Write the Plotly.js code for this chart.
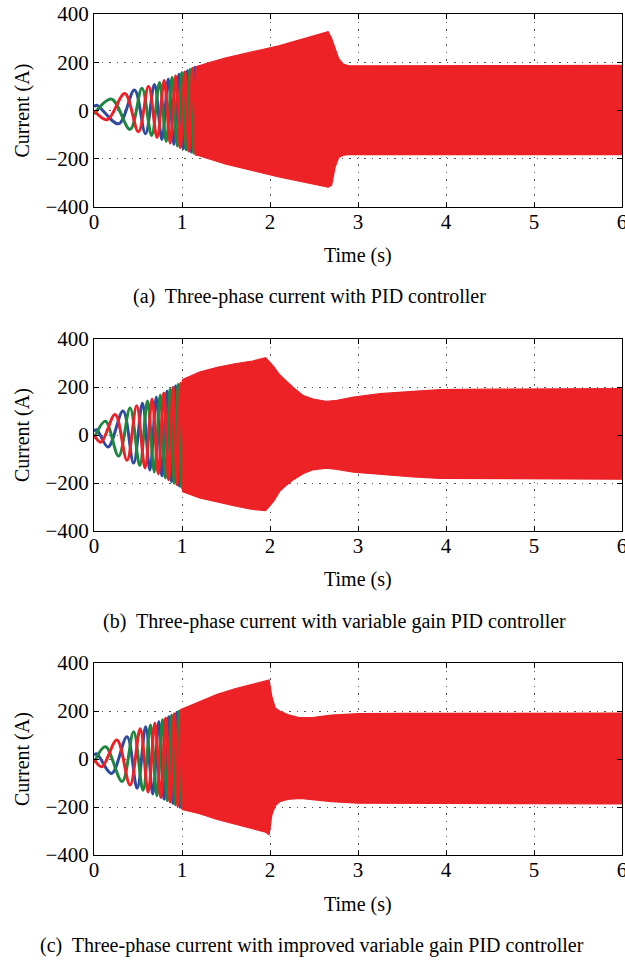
<!DOCTYPE html>
<html>
<head>
<meta charset="utf-8">
<script src="https://cdn.plot.ly/plotly-3.0.1.min.js"></script>
<style>
html,body{margin:0;padding:0;background:#fff;}
#chart{width:625px;height:961px;}
</style>
</head>
<body>
<div id="chart"></div>
<script>
// ---------- data (time in s, current in A) ----------
var xTicks = [0, 1, 2, 3, 4, 5, 6];
var yTicks = [-400, -200, 0, 200, 400];
var captions = [
  "(a)  Three-phase current with PID controller",
  "(b)  Three-phase current with variable gain PID controller",
  "(c)  Three-phase current with improved variable gain PID controller"
];

// Panel (a): individual peaks of each phase during start-up
var aRedT = [0, 0.15, 0.35, 0.505, 0.62, 0.717, 0.797, 0.866, 0.927, 0.982, 1.032, 1.078, 1.12, 1.16, 1.198];
var aRedV = [0, -38, 70, -88, 100, -112, 124, -135, 144, -153, 160, -168, 175, -182, 188];
var aGreenT = [0, 0.20, 0.41, 0.545, 0.655, 0.745, 0.821, 0.887, 0.946, 0.999, 1.048, 1.092, 1.134, 1.173];
var aGreenV = [-15, 47, -78, 92, -104, 116, -128, 138, -147, 156, -163, 170, -177, 184];
var aBlueT = [0, 0.03, 0.28, 0.46, 0.585, 0.687, 0.772, 0.844, 0.907, 0.964, 1.016, 1.063, 1.106, 1.147, 1.186];
var aBlueV = [15, 22, -55, 85, -96, 108, -120, 131, -141, 150, -158, 165, -172, 179, -186];
// Panel (a): envelope of the dense band
var aEnvT = [1.15, 1.3, 1.5, 1.7, 1.9, 2.1, 2.3, 2.45, 2.58, 2.66, 2.70, 2.74, 2.78, 2.83, 2.9, 3.2, 3.6, 4.0, 4.5, 5.0, 5.5, 6.0];
var aEnvUp = [180, 198, 218, 236, 252, 268, 288, 303, 316, 327, 300, 262, 216, 192, 185, 185, 186, 185, 186, 186, 186, 187];
var aEnvLo = [-182, -200, -222, -240, -258, -275, -292, -303, -312, -318, -310, -235, -195, -186, -182, -182, -182, -183, -183, -183, -183, -183];

// Panel (b)
var bRedT = [0, 0.08, 0.24, 0.375, 0.485, 0.58, 0.66, 0.73, 0.793, 0.848, 0.898, 0.943, 0.985, 1.024, 1.061];
var bRedV = [0, -30, 85, -105, 122, -137, 150, -162, 174, -186, 198, -207, 216, -225, 234];
var bGreenT = [0, 0.13, 0.28, 0.41, 0.52, 0.608, 0.685, 0.752, 0.812, 0.865, 0.913, 0.957, 0.998, 1.037];
var bGreenV = [-15, 57, -88, 112, -127, 142, -154, 166, -178, 190, -201, 210, -219, 228];
var bBlueT = [0, 0.03, 0.16, 0.33, 0.45, 0.55, 0.635, 0.708, 0.773, 0.83, 0.882, 0.928, 0.971, 1.011, 1.049];
var bBlueV = [15, 22, -50, 100, -117, 132, -146, 158, -170, 182, -194, 204, -213, 222, -231];
var bEnvT = [1.0, 1.2, 1.4, 1.6, 1.8, 1.95, 2.04, 2.11, 2.19, 2.27, 2.38, 2.49, 2.64, 2.76, 2.95, 3.25, 3.63, 3.93, 4.5, 5.0, 5.5, 6.0];
var bEnvUp = [230, 262, 282, 297, 308, 322, 286, 251, 223, 196, 164, 150, 140, 144, 158, 172, 182, 189, 191, 192, 192, 193];
var bEnvLo = [-235, -262, -280, -295, -310, -315, -277, -235, -208, -185, -160, -145, -138, -143, -155, -165, -175, -181, -183, -184, -184, -184];

// Panel (c)
var cRedT = [0, 0.09, 0.26, 0.41, 0.525, 0.615, 0.692, 0.758, 0.815, 0.866, 0.912, 0.953, 0.992, 1.028];
var cRedV = [0, -32, 79, -108, 126, -138, 150, -160, 170, -179, 188, -196, 204, -210];
var cGreenT = [0, 0.13, 0.32, 0.45, 0.557, 0.642, 0.715, 0.778, 0.833, 0.882, 0.926, 0.966, 1.004, 1.04];
var cGreenV = [-15, 51, -94, 114, -130, 142, -153, 164, -173, 182, -191, 199, -206, 212];
var cBlueT = [0, 0.03, 0.2, 0.375, 0.49, 0.587, 0.668, 0.737, 0.797, 0.85, 0.897, 0.94, 0.979, 1.016];
var cBlueV = [15, 22, -60, 93, -122, 134, -146, 156, -167, 176, -185, 194, -201, 208];
var cEnvT = [1.0, 1.2, 1.4, 1.6, 1.8, 1.95, 1.99, 2.02, 2.06, 2.11, 2.2, 2.34, 2.5, 2.7, 3.0, 3.5, 4.0, 4.5, 5.0, 5.5, 6.0];
var cEnvUp = [208, 240, 270, 292, 312, 325, 329, 262, 212, 200, 185, 172, 174, 183, 189, 190, 190, 191, 191, 191, 191];
var cEnvLo = [-210, -228, -252, -270, -290, -305, -315, -235, -195, -178, -168, -164, -170, -178, -184, -186, -186, -187, -187, -187, -187];

// ---------- styling ----------
var RED = "#ec2227", BLUE = "#2f4b9f", GREEN = "#1f8640";
var FONT = "Liberation Serif, Times New Roman, serif";

var panels = [
  {red:[aRedT,aRedV], green:[aGreenT,aGreenV], blue:[aBlueT,aBlueV], env:[aEnvT,aEnvUp,aEnvLo]},
  {red:[bRedT,bRedV], green:[bGreenT,bGreenV], blue:[bBlueT,bBlueV], env:[bEnvT,bEnvUp,bEnvLo]},
  {red:[cRedT,cRedV], green:[cGreenT,cGreenV], blue:[cBlueT,cBlueV], env:[cEnvT,cEnvUp,cEnvLo]}
];

var traces = [];
panels.forEach(function(p, i){
  var xa = i === 0 ? "x" : "x" + (i+1);
  var ya = i === 0 ? "y" : "y" + (i+1);
  function line(d, col, w){
    return {x:d[0], y:d[1], xaxis:xa, yaxis:ya, type:"scatter", mode:"lines",
      line:{color:col, width:w, shape:"spline", smoothing:1}, hoverinfo:"skip", showlegend:false};
  }
  traces.push(line(p.blue, BLUE, 3));
  traces.push(line(p.green, GREEN, 3));
  traces.push(line(p.red, RED, 3));
  // dense red band
  var bx = p.env[0].concat(p.env[0].slice().reverse());
  var by = p.env[1].concat(p.env[2].slice().reverse());
  traces.push({x:bx, y:by, xaxis:xa, yaxis:ya, type:"scatter", mode:"lines", fill:"toself",
    fillcolor:RED, line:{color:RED, width:1.2}, hoverinfo:"skip", showlegend:false});
});

function xAxis(anchor){
  return {anchor:anchor, domain:[0,1], range:[0,6], tickvals:xTicks, ticks:"inside", ticklen:5,
    tickcolor:"#000", showline:true, linecolor:"#000", linewidth:1, mirror:"ticks",
    showgrid:true, gridcolor:"#555", griddash:"1.5px,6px", gridwidth:1, zeroline:false,
    ticklabeloverflow:"allow", ticklabelstandoff:-4, layer:"above traces",
    tickfont:{family:FONT, size:21, color:"#000"}};
}
function yAxis(anchor, dom){
  return {anchor:anchor, domain:dom, range:[-400,400], tickvals:yTicks, ticks:"inside", ticklen:5,
    tickcolor:"#000", showline:true, linecolor:"#000", linewidth:1, mirror:"ticks",
    showgrid:true, gridcolor:"#555", griddash:"1.5px,6px", gridwidth:1, zeroline:false,
    ticklabeloverflow:"allow", layer:"above traces",
    tickfont:{family:FONT, size:21, color:"#000"}};
}

var H = 841; // plot-area height in px (961 - 14 - 106)
function py(px){ return (855 - px) / H; }

var ann = [];
var timeY = [256, 580, 904];
var capY = [296, 621, 945];
var capX = [309, 334, 312];
var yLabY = [110.5, 435, 759];
for (var i = 0; i < 3; i++){
  ann.push({text:"Time (s)", xref:"paper", yref:"paper", x:0.5, y:py(timeY[i]),
    xanchor:"center", yanchor:"middle", showarrow:false, font:{family:FONT, size:20, color:"#000"}});
  ann.push({text:captions[i], xref:"paper", yref:"paper", x:(capX[i]-94)/528, y:py(capY[i]),
    xanchor:"center", yanchor:"middle", showarrow:false, font:{family:FONT, size:20, color:"#000"}});
  ann.push({text:"Current (A)", xref:"paper", yref:"paper", x:(22-94)/528, y:py(yLabY[i]),
    xanchor:"center", yanchor:"middle", textangle:-90, showarrow:false, font:{family:FONT, size:20, color:"#000"}});
}

var layout = {
  width:625, height:961,
  margin:{l:94, r:3, t:14, b:106},
  paper_bgcolor:"#fff", plot_bgcolor:"#fff",
  showlegend:false,
  xaxis:xAxis("y"), yaxis:yAxis("x", [py(207), 1]),
  xaxis2:xAxis("y2"), yaxis2:yAxis("x2", [py(531), py(339)]),
  xaxis3:xAxis("y3"), yaxis3:yAxis("x3", [0, py(663)]),
  annotations:ann
};

Plotly.newPlot("chart", traces, layout, {staticPlot:true, displayModeBar:false});
</script>
</body>
</html>
